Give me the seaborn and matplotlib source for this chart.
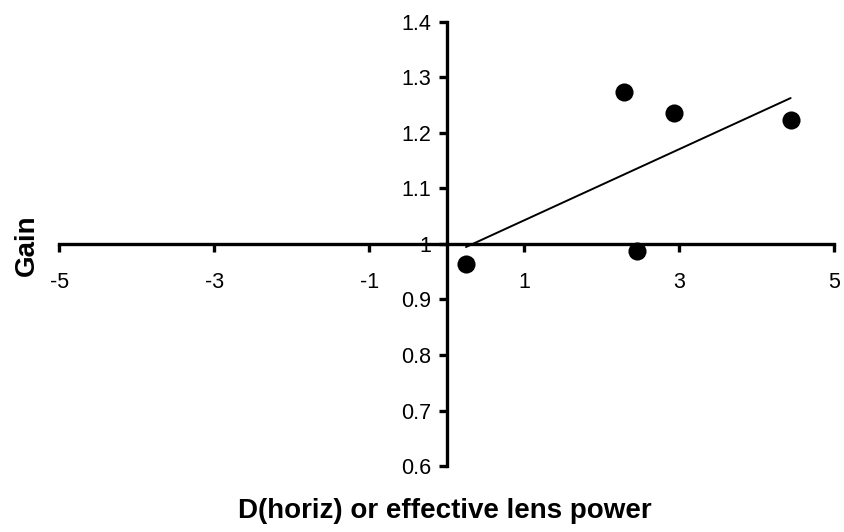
import matplotlib
matplotlib.use("Agg")
import matplotlib.pyplot as plt
import seaborn as sns
import numpy as np
import pandas as pd

# Data
lens_power = [0.25, 2.29, 2.46, 2.93, 4.44]
gain = [0.963, 1.274, 0.988, 1.235, 1.224]
x_ticks = [-5, -3, -1, 1, 3, 5]
y_ticks = [0.6, 0.7, 0.8, 0.9, 1.0, 1.1, 1.2, 1.3, 1.4]
y_tick_labels = ["0.6", "0.7", "0.8", "0.9", "1", "1.1", "1.2", "1.3", "1.4"]

df = pd.DataFrame({"x": lens_power, "y": gain})

sns.set_style("white")
plt.rcParams["font.family"] = ["Liberation Sans", "DejaVu Sans"]

fig = plt.figure(figsize=(8.45, 5.32), dpi=100)
ax = fig.add_axes([0.070, 0.124, 0.917, 0.835])

sns.regplot(data=df, x="x", y="y", scatter=False, ci=None, truncate=True,
            color="black", line_kws=dict(linewidth=1.4), ax=ax)
sns.scatterplot(data=df, x="x", y="y", color="black", s=170, edgecolor="black",
                linewidth=0, ax=ax, zorder=5)

ax.set_xlim(-5, 5)
ax.set_ylim(0.6, 1.4)
ax.spines["left"].set_position(("data", 0))
ax.spines["bottom"].set_position(("data", 1))
ax.spines["top"].set_visible(False)
ax.spines["right"].set_visible(False)
for s in ("left", "bottom"):
    ax.spines[s].set_linewidth(2.4)
    ax.spines[s].set_color("black")
    ax.spines[s].set_zorder(3)

ax.set_xticks(x_ticks)
ax.set_xticklabels([str(t) for t in x_ticks])
ax.set_yticks(y_ticks)
ax.set_yticklabels(y_tick_labels)
ax.tick_params(axis="both", direction="out", length=6, width=2.4, color="black",
               labelsize=15.5, labelcolor="black",
               bottom=True, left=True, top=False, right=False)
ax.tick_params(axis="x", pad=14)
ax.tick_params(axis="y", pad=5)

ax.set_xlabel("D(horiz) or effective lens power", fontsize=20, fontweight="bold",
              color="black")
ax.set_ylabel("Gain", fontsize=20, fontweight="bold", color="black")
ax.xaxis.set_label_coords(0.498, -0.072)
ax.yaxis.set_label_coords(-0.025, 0.498)

fig.savefig("out.png", dpi=100)
